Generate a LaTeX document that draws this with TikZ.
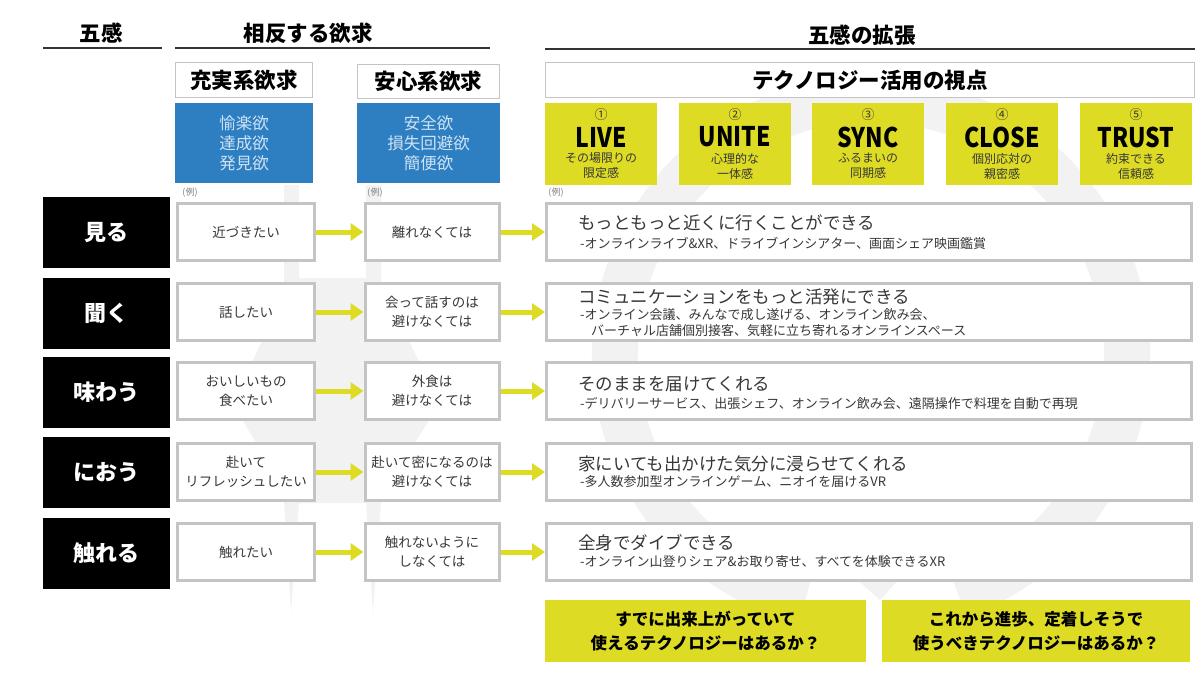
\documentclass[tikz,border=0pt]{standalone}
\usepackage{fontspec}
\setmainfont{Noto Sans CJK JP}
\newfontfamily\condf[FakeStretch=0.85]{Noto Sans CJK JP}
\usetikzlibrary{arrows.meta}
\definecolor{ylw}{RGB}{221,219,36}
\definecolor{blu}{RGB}{46,127,194}
\definecolor{blutxt}{RGB}{205,226,244}
\definecolor{bord}{RGB}{196,196,196}
\definecolor{wm}{RGB}{242,242,242}
\definecolor{txt}{RGB}{55,55,55}
\begin{document}
\begin{tikzpicture}[x=1pt,y=-1pt,
  hdr/.style={font=\fontsize{21.5}{24}\selectfont\bfseries},
  catbox/.style={draw=bord, line width=1.2pt, fill=white, inner sep=0, font=\fontsize{21.5}{24}\selectfont\bfseries},
  bluebox/.style={fill=blu, text=blutxt, inner sep=0, align=center, minimum height=80, font=\fontsize{16.5}{20}\selectfont},
  ybox/.style={fill=ylw, inner sep=0, minimum width=112, minimum height=82},
  ynum/.style={font=\fontsize{13}{15}\selectfont, text=txt},
  ytitle/.style={font=\condf\fontsize{27}{30}\selectfont\bfseries},
  ysub/.style={font=\fontsize{12}{15}\selectfont, text=txt, align=center},
  sense/.style={fill=black, text=white, minimum width=127, minimum height=71, inner sep=0, font=\fontsize{22}{24}\selectfont\bfseries},
  wbox/.style={draw=bord, line width=3pt, fill=white, minimum height=57, inner sep=0, align=center, font=\fontsize{13.5}{19}\selectfont, text=txt},
  rbox/.style={draw=bord, line width=3pt, fill=white, minimum height=57, minimum width=645, inner sep=0},
  mtxt/.style={anchor=west, inner sep=0, font=\fontsize{17.5}{20}\selectfont, text=txt},
  stxt/.style={anchor=west, inner sep=0, font=\fontsize{13}{15}\selectfont, text=txt},
  rei/.style={font=\fontsize{9}{10}\selectfont, text=gray, inner sep=0},
  yarrow/.style={draw=ylw, line width=5pt, -{Triangle[length=13pt,width=17pt]}},
  qbox/.style={fill=ylw, inner sep=0, minimum height=62, align=center, font=\fontsize{16.5}{24}\selectfont\bfseries}
]
\useasboundingbox (0,0) rectangle (1200,678);
\fill[white] (0,0) rectangle (1200,678);
% watermark
\draw[wm, line width=46pt] (871,355) ++(70:256) arc[start angle=70, end angle=-255, radius=256];
\fill[wm] (943,530) -- (880,600) -- (835,560) -- cycle;
\fill[wm] (284,185) -- (299,185) -- (299,500) -- (291,613) -- (284,500) -- cycle;
\fill[wm] (366,185) -- (381,185) -- (381,500) -- (373,613) -- (366,500) -- cycle;
\fill[wm] (293,278) -- (377,278) -- (440,403) -- (377,503) -- (293,503) -- (232,403) -- cycle;

% headers
\node[hdr] (h1) at (101,33) {五感};
\node[hdr] (h2) at (308,33) {相反する欲求};
\node[hdr] (h3) at (862,35) {五感の拡張};
\draw[line width=1.3pt, black!80] (43,48) -- (162,48);
\draw[line width=1.3pt, black!80] (175,48) -- (490,48);
\draw[line width=1.3pt, black!80] (545,49) -- (1195,49);

\node[catbox, minimum width=137, minimum height=35] (c1) at (244,80) {充実系欲求};
\node[catbox, minimum width=142, minimum height=34] (c2) at (428.5,81.5) {安心系欲求};
\node[bluebox, minimum width=138] (b1) at (244,143) {愉楽欲\\達成欲\\発見欲};
\node[bluebox, minimum width=143] (b2) at (428.5,143) {安全欲\\損失回避欲\\簡便欲};
\node[catbox, minimum width=649, minimum height=35] (tech) at (870,80) {テクノロジー活用の視点};

% five perspectives
\foreach \cx/\n/\t/\s/\nm in {601/①/LIVE/その場限りの\\限定感/p1, 735/②/UNITE/心理的な\\一体感/p2, 868/③/SYNC/ふるまいの\\同期感/p3, 1002/④/CLOSE/個別応対の\\親密感/p4, 1136/⑤/TRUST/約束できる\\信頼感/p5}{
  \node[ybox] (\nm) at (\cx,144) {};
  \node[ynum] (\nm n) at (\cx,115) {\n};
  \node[ytitle] (\nm t) at (\cx,137) {\t};
  \node[ysub] (\nm s) at (\cx,166) {\s};
}

\node[rei] (r1) at (190,193) {(例)};
\node[rei] (r2) at (375,193) {(例)};
\node[rei] (r3) at (556,193) {(例)};

% rows
\node[sense] (s1) at (106.5,232.5) {見る};
\node[sense] (s2) at (106.5,313) {聞く};
\node[sense] (s3) at (106.5,392.5) {味わう};
\node[sense] (s4) at (106.5,472.5) {におう};
\node[sense] (s5) at (106.5,553) {触れる};

\node[wbox, minimum width=137] (a1) at (246,232) {近づきたい};
\node[wbox, minimum width=137] (a2) at (246,312) {話したい};
\node[wbox, minimum width=137] (a3) at (246,391) {おいしいもの\\食べたい};
\node[wbox, minimum width=137] (a4) at (246,472) {赴いて\\リフレッシュしたい};
\node[wbox, minimum width=137] (a5) at (246,552) {触れたい};

\node[wbox, minimum width=134] (d1) at (432,232) {離れなくては};
\node[wbox, minimum width=134] (d2) at (432,312) {会って話すのは\\避けなくては};
\node[wbox, minimum width=134] (d3) at (432,391) {外食は\\避けなくては};
\node[wbox, minimum width=134] (d4) at (432,472) {赴いて密になるのは\\避けなくては};
\node[wbox, minimum width=134] (d5) at (432,552) {触れないように\\しなくては};

\node[rbox] (e1) at (869,232) {};
\node[rbox] (e2) at (869,312) {};
\node[rbox] (e3) at (869,391) {};
\node[rbox] (e4) at (869,472) {};
\node[rbox] (e5) at (869,552) {};

\node[mtxt] (m1) at (578,223) {もっともっと近くに行くことができる};
\node[stxt] (n1) at (580,243) {-オンラインライブ\&XR、ドライブインシアター、画面シェア映画鑑賞};
\node[mtxt] (m2) at (578,297) {コミュニケーションをもっと活発にできる};
\node[stxt] (n2) at (580,315) {-オンライン会議、みんなで成し遂げる、オンライン飲み会、};
\node[stxt] (n2b) at (591,331) {バーチャル店舗個別接客、気軽に立ち寄れるオンラインスペース};
\node[mtxt] (m3) at (578,384) {そのままを届けてくれる};
\node[stxt] (n3) at (580,404) {-デリバリーサービス、出張シェフ、オンライン飲み会、遠隔操作で料理を自動で再現};
\node[mtxt] (m4) at (578,464) {家にいても出かけた気分に浸らせてくれる};
\node[stxt] (n4) at (580,482) {-多人数参加型オンラインゲーム、ニオイを届けるVR};
\node[mtxt] (m5) at (578,543) {全身でダイブできる};
\node[stxt] (n5) at (580,562) {-オンライン山登りシェア\&お取り寄せ、すべてを体験できるXR};

\foreach \i in {1,...,5}{
  \draw[yarrow] (a\i.east) -- (d\i.west);
  \draw[yarrow] (d\i.east) -- (e\i.west);
}

\node[qbox, minimum width=321] (q1) at (705.5,631) {すでに出来上がっていて\\使えるテクノロジーはあるか？};
\node[qbox, minimum width=308] (q2) at (1036,631) {これから進歩、定着しそうで\\使うべきテクノロジーはあるか？};
\end{tikzpicture}
\end{document}
